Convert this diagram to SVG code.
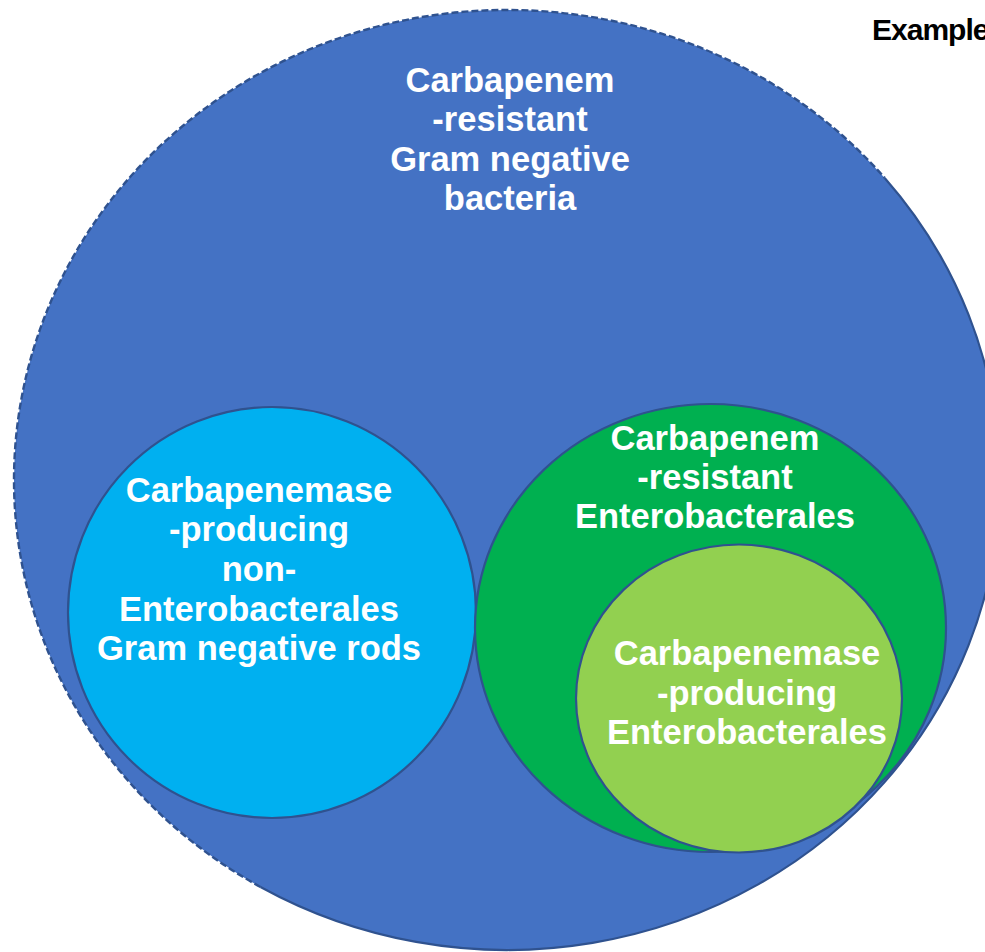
<svg xmlns="http://www.w3.org/2000/svg" width="985" height="952" viewBox="0 0 985 952">
  <style>
    .lbl { font-family: "Liberation Sans", Arial, sans-serif; font-weight: bold; font-size: 34.5px; fill: #FFFFFF; text-anchor: middle; }
    .ring { stroke: #2F528F; stroke-width: 2.2; }
    .title { font-family: "Liberation Sans", Arial, sans-serif; font-weight: bold; font-size: 30px; letter-spacing: -1px; fill: #000000; }
  </style>
  <rect x="0" y="0" width="985" height="952" fill="#FFFFFF"/>
  <g id="crgnb">
    <ellipse cx="507" cy="480" rx="493" ry="470" fill="#4472C4" stroke="none"/>
    <path d="M 884.7 177.9 A 493 470 0 0 1 260.5 887" fill="none" class="ring"/>
    <path d="M 260.5 887 A 493 470 0 1 1 884.7 177.9" fill="none" stroke="#2F528F" stroke-width="2.4" stroke-dasharray="7 3"/>
    <text class="lbl" x="510" y="92">Carbapenem</text>
    <text class="lbl" x="510" y="131">-resistant</text>
    <text class="lbl" x="510" y="171">Gram negative</text>
    <text class="lbl" x="510" y="210">bacteria</text>
  </g>
  <g id="cpnegr">
    <ellipse cx="272" cy="612.5" rx="204" ry="205.5" fill="#00B0F0" class="ring"/>
    <text class="lbl" x="259" y="502">Carbapenemase</text>
    <text class="lbl" x="259" y="541">-producing</text>
    <text class="lbl" x="259" y="581">non-</text>
    <text class="lbl" x="259" y="621">Enterobacterales</text>
    <text class="lbl" x="259" y="660">Gram negative rods</text>
  </g>
  <g id="cre">
    <ellipse cx="710.5" cy="628" rx="235.5" ry="224" fill="#00B050" class="ring"/>
    <text class="lbl" x="715" y="450">Carbapenem</text>
    <text class="lbl" x="715" y="489">-resistant</text>
    <text class="lbl" x="715" y="528">Enterobacterales</text>
  </g>
  <g id="cpe">
    <ellipse cx="739" cy="698.5" rx="163" ry="154" fill="#92D050" class="ring"/>
    <text class="lbl" x="747" y="665">Carbapenemase</text>
    <text class="lbl" x="747" y="705">-producing</text>
    <text class="lbl" x="747" y="744">Enterobacterales</text>
  </g>
  <g id="connectors"></g>
  <g id="example">
    <text class="title" x="872" y="40">Example</text>
  </g>
</svg>
